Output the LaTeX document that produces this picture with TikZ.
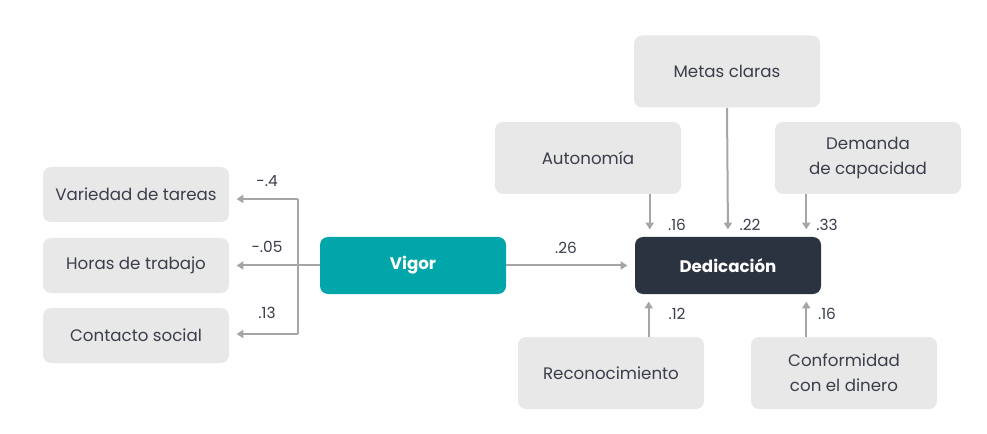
\documentclass[tikz,border=0pt]{standalone}
\usepackage{fontspec}
\setmainfont{Poppins}
\usetikzlibrary{arrows.meta}
\definecolor{boxgray}{RGB}{232,232,232}
\definecolor{linegray}{RGB}{166,166,166}
\definecolor{vigorteal}{RGB}{0,166,169}
\definecolor{dedicdark}{RGB}{43,50,64}
\definecolor{textdark}{RGB}{58,62,74}

\begin{document}
\begin{tikzpicture}[x=0.75pt,y=0.75pt,yscale=-1,xscale=1,
	factor/.style={fill=boxgray,rounded corners=6pt,minimum width=139.5pt,minimum height=41.25pt,align=center,text=textdark,font=\fontsize{12.5}{18.5}\selectfont,inner sep=2pt},
	tallfactor/.style={factor,minimum height=54pt},
	core/.style={rounded corners=6pt,minimum width=139.5pt,minimum height=42.75pt,text=white,font=\bfseries\fontsize{12.5}{15}\selectfont},
	link/.style={draw=linegray,line width=1.5pt},
	arr/.style={link,-{Triangle[width=6pt,length=5pt]},shorten >=5.5pt},
	coef/.style={text=textdark,font=\fontsize{11.5}{13}\selectfont,inner sep=0pt}]
	\useasboundingbox (0,0) rectangle (987,434);
	
	%Shape: core boxes
	\node [core,fill=vigorteal] (vigor) at (413,265.5) {Vigor};
	\node [core,fill=dedicdark] (dedic) at (728,265.5) {Dedicación};
	%Shape: left factors
	\node [factor] (tareas) at (136,194.5) {Variedad de tareas};
	\node [factor] (horas) at (136,265.5) {Horas de trabajo};
	\node [factor] (social) at (136,335.5) {Contacto social};
	%Shape: upper factors
	\node [tallfactor] (metas) at (727,71.5) {Metas claras};
	\node [tallfactor] (auton) at (588,158) {Autonomía};
	\node [tallfactor] (demanda) at (868,158) {Demanda\\de capacidad};
	%Shape: lower factors
	\node [tallfactor] (recon) at (611,373) {Reconocimiento};
	\node [tallfactor] (dinero) at (844,373) {Conformidad\\con el dinero};
	
	%Coordinates for the branch and the entry points
	\coordinate (btop) at (298,199);
	\coordinate (bmid) at (298,265.5);
	\coordinate (bbot) at (298,334);
	\coordinate (inleft) at ([xshift=11.25pt]dedic.north west);
	\coordinate (inright) at ([xshift=-11.25pt]dedic.north east);
	\coordinate (outleft) at ([xshift=10.5pt]dedic.south west);
	\coordinate (outright) at ([xshift=-11.25pt]dedic.south east);
	
	%Straight Lines: Vigor branch
	\draw [link] (vigor.west) -- (bmid) ;
	\draw [link] (btop) -- (bbot) ;
	\draw [arr] (btop) -- (btop -| tareas.east) ;
	\draw [arr] (bmid) -- (horas.east) ;
	\draw [arr] (bbot) -- (bbot -| social.east) ;
	%Straight Lines: into Dedicación
	\draw [arr] (vigor.east) -- (dedic.west) ;
	\draw [arr] (auton.south -| inleft) -- (inleft) ;
	\draw [arr] (metas.south) -- (dedic.north) ;
	\draw [arr] (demanda.south -| inright) -- (inright) ;
	\draw [arr] (recon.north -| outleft) -- (outleft) ;
	\draw [arr] (dinero.north -| outright) -- (outright) ;
	
	% Text Node
	\node [coef] (c1) at (267,181) {-.4};
	\node [coef] (c2) at (267,247) {-.05};
	\node [coef] (c3) at (267,313) {.13};
	\node [coef] (c4) at (566,248) {.26};
	\node [coef] (c5) at (677,225) {.16};
	\node [coef] (c6) at (750,225) {.22};
	\node [coef] (c7) at (827,225) {.33};
	\node [coef] (c8) at (677,314) {.12};
	\node [coef] (c9) at (827,314) {.16};
	
\end{tikzpicture}
\end{document}
